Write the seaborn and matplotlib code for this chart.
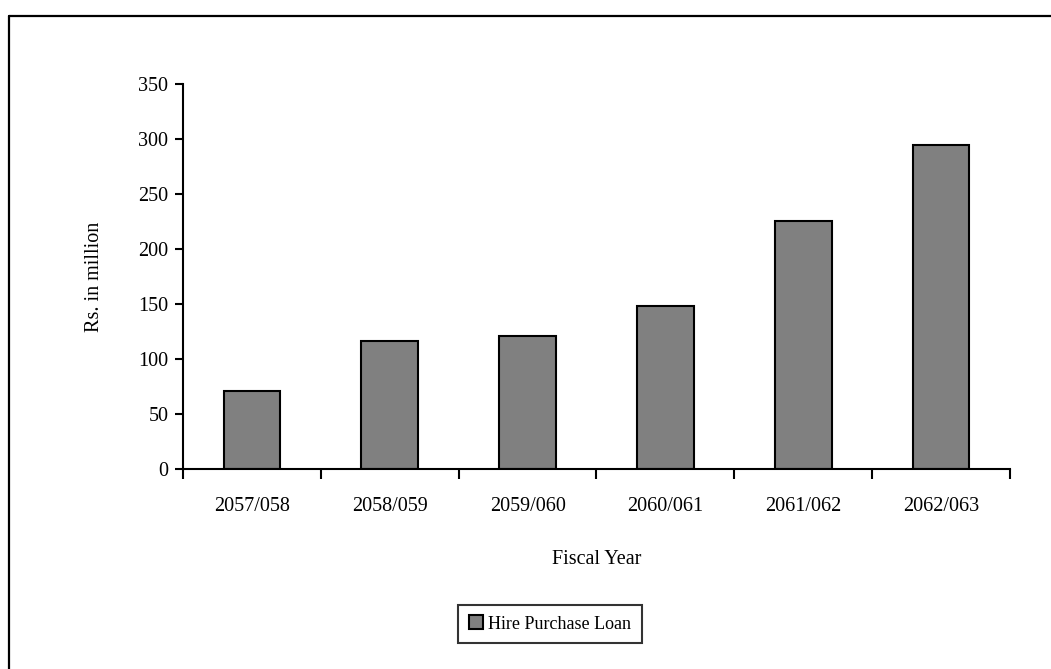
import matplotlib
matplotlib.use("Agg")
import matplotlib.pyplot as plt
import seaborn as sns
import pandas as pd
from matplotlib.lines import Line2D

years = ["2057/058", "2058/059", "2059/060", "2060/061", "2061/062", "2062/063"]
loan = [71, 116.5, 121, 148.5, 225.5, 295]
series_name = "Hire Purchase Loan"

sns.set_theme(style="white")
plt.rcParams['font.family'] = ['Liberation Serif', 'DejaVu Serif']

df = pd.DataFrame({"Fiscal Year": years, "value": loan, "series": series_name})

fig = plt.figure(figsize=(10.51, 6.69), dpi=100)
ax = fig.add_axes([183/1051, (669-469)/669, (1010-183)/1051, (469-84)/669])

sns.barplot(data=df, x="Fiscal Year", y="value", hue="series", ax=ax,
            palette=["#808080"], edgecolor="black", linewidth=1.5,
            width=0.41, saturation=1)

FS = 14.5
ax.set_ylim(0, 350)
ax.set_xlim(-0.5, len(years) - 0.5)
ax.set_yticks(range(0, 351, 50))
ax.tick_params(axis='y', which='major', direction='out', length=5.5, width=1.5,
               color='black', labelsize=FS, pad=5, left=True)
ax.set_xticks(range(len(years)))
ax.set_xticklabels(years)
ax.set_xticks([i - 0.5 for i in range(len(years) + 1)], minor=True)
ax.tick_params(axis='x', which='major', length=0, labelsize=FS, pad=20)
ax.tick_params(axis='x', which='minor', direction='out', length=7, width=1.5,
               color='black', bottom=True)
for lab in ax.get_xticklabels() + ax.get_yticklabels():
    lab.set_color('black')

for s in ["top", "right"]:
    ax.spines[s].set_visible(False)
for s in ["left", "bottom"]:
    ax.spines[s].set_color("black")
    ax.spines[s].set_linewidth(1.5)

ax.set_xlabel("Fiscal Year", fontsize=FS, color='black', labelpad=25)
ax.set_ylabel("Rs. in million", fontsize=FS, color='black', labelpad=25)

leg = ax.legend(loc="center", bbox_to_anchor=(550/1051, 1 - 624/669),
                bbox_transform=fig.transFigure, frameon=True, fancybox=False,
                fontsize=13, handlelength=0.8, handleheight=0.8,
                handletextpad=0.3, borderpad=0.6, borderaxespad=0)
leg.get_frame().set_edgecolor("black")
leg.get_frame().set_linewidth(1.5)
for t in leg.get_texts():
    t.set_color('black')

# outer chart frame (cropped at right and bottom)
fig.add_artist(Line2D([9/1051, 1.0], [1 - 16/669, 1 - 16/669],
                      transform=fig.transFigure, color='black', linewidth=1.6))
fig.add_artist(Line2D([9/1051, 9/1051], [0, 1 - 16/669],
                      transform=fig.transFigure, color='black', linewidth=1.6))

fig.savefig("out.png", dpi=100, facecolor="white")
